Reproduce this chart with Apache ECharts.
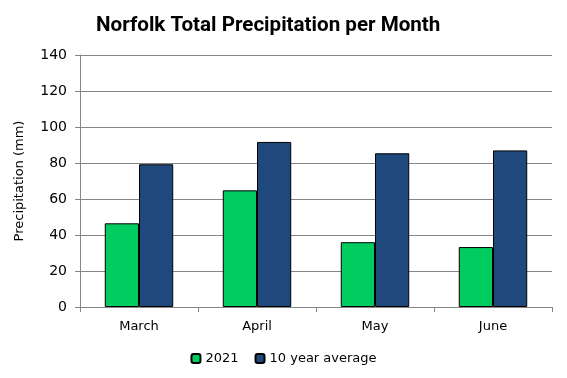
<!DOCTYPE html>
<html><head><meta charset="utf-8">
<script src="https://cdn.jsdelivr.net/npm/echarts@6/dist/echarts.min.js"></script>
<style>html,body{margin:0;padding:0;background:#fff}#c{width:567px;height:378px}</style>
</head><body><div id="c"></div>
<script>
const categories = ["March", "April", "May", "June"];
const values2021 = [46.5, 64.8, 36, 33.3];
const valuesAvg = [79.3, 91.7, 85.4, 87];
const yTicks = [0, 20, 40, 60, 80, 100, 120, 140];

const chart = echarts.init(document.getElementById('c'), null, {renderer: 'canvas'});
const font = 'DejaVu Sans';
chart.setOption({
  animation: false,
  title: {
    text: 'Norfolk Total Precipitation per Month',
    left: 91, top: 10,
    textStyle: {fontFamily: 'Roboto', fontWeight: 'bold', fontSize: 20.6, color: '#000'}
  },
  legend: {
    bottom: 8, left: 'center',
    itemWidth: 9, itemHeight: 9, itemGap: 16,
    textStyle: {fontFamily: font, fontSize: 13, color: '#000'},
    data: ['2021', '10 year average']
  },
  grid: {left: 80, right: 15, top: 55, bottom: 71},
  xAxis: {
    type: 'category', data: categories,
    axisLine: {lineStyle: {color: '#868686', width: 1}},
    axisTick: {show: true, length: 5, lineStyle: {color: '#868686'}},
    axisLabel: {fontFamily: font, fontSize: 13, color: '#000', margin: 13}
  },
  yAxis: {
    type: 'value', min: 0, max: 140, interval: 20,
    name: 'Precipitation (mm)', nameLocation: 'middle', nameGap: 54,
    nameTextStyle: {fontFamily: font, fontSize: 13, color: '#000'},
    axisLine: {show: true, lineStyle: {color: '#868686'}},
    axisTick: {show: true, length: 5, lineStyle: {color: '#868686'}},
    splitLine: {lineStyle: {color: '#868686', width: 1}},
    axisLabel: {fontFamily: font, fontSize: 14, color: '#000', margin: 13,
      formatter: v => yTicks.includes(v) ? String(v) : ''}
  },
  series: [
    {name: '2021', type: 'bar', data: values2021, barGap: '0%', barCategoryGap: '42%',
     itemStyle: {color: '#00cc60', borderColor: '#000', borderWidth: 1}},
    {name: '10 year average', type: 'bar', data: valuesAvg,
     itemStyle: {color: '#1f497d', borderColor: '#000', borderWidth: 1}}
  ]
});
</script></body></html>
